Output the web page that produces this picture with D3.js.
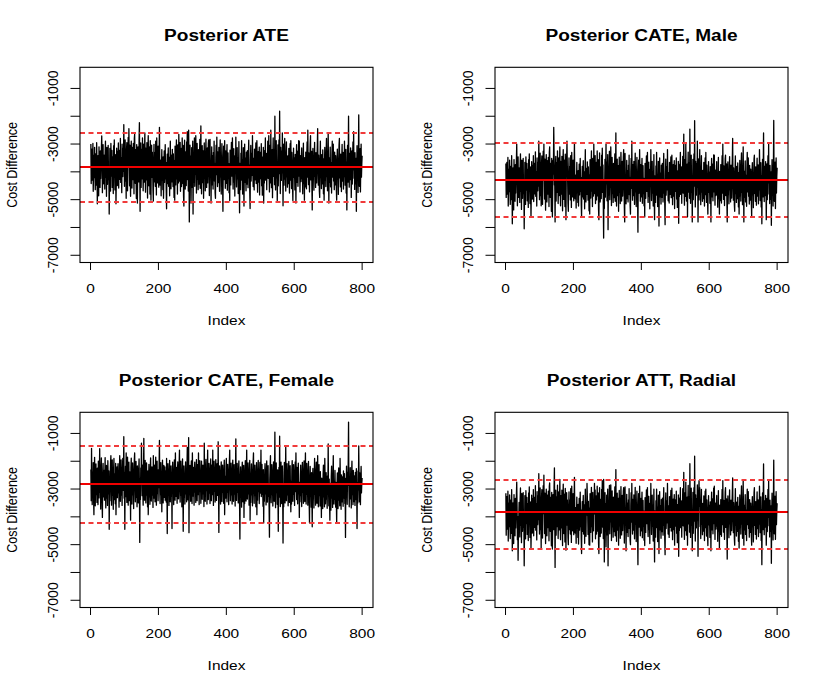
<!DOCTYPE html>
<html>
<head>
<meta charset="utf-8">
<script src="https://cdn.jsdelivr.net/npm/d3@7/dist/d3.min.js"></script>
<style>
  html, body { margin: 0; padding: 0; background: #fff; }
  svg { display: block; }
</style>
</head>
<body>
<div id="chart"></div>
<script>
/* --- data (index 1..800) ---------------------------------------------- */
var ateDraws = [
  -3000,-4420,-3560,-3180,-4300,-3790,-2980,-4700,-3900,-3400,-4210,-3120,-4050,-4640,-3350,-3880,-4480,-2950,-3720,-5150,
  -4350,-3420,-3930,-4860,-3100,-4130,-3550,-4560,-3250,-4240,-3700,-3130,-2710,-3560,-4750,-3900,-3020,-4430,-4000,-3400,
  -3760,-4620,-3300,-2900,-4200,-3640,-4880,-3120,-4010,-4450,-3510,-3050,-4280,-3860,-5520,-4330,-3160,-3740,-4690,-2980,
  -3620,-4150,-3230,-4560,-3450,-3940,-4780,-3060,-3770,-2850,-4100,-4650,-3380,-3900,-5150,-4250,-3150,-3690,-4490,-3260,
  -3990,-2960,-4580,-3540,-3230,-4270,-3780,-2800,-4380,-3480,-3920,-4750,-3000,-3650,-4170,-3150,-3980,-2300,-3500,-4520,
  -3260,-2850,-4330,-3710,-4950,-3200,-2950,-3920,-4680,-3380,-2760,-3780,-2450,-3570,-4500,-3040,-4060,-4880,-3300,-2900,
  -3950,-4580,-3120,-3640,-4280,-2980,-3500,-4790,-2800,-2650,-3760,-4410,-3200,-4030,-4960,-3020,-3690,-5120,-4120,-3100,
  -3580,-4360,-2850,-2230,-3900,-5420,-3330,-2960,-4560,-3720,-3180,-4250,-2780,-3540,-4680,-3980,-3000,-4370,-3380,-2600,
  -3830,-4730,-3150,-3680,-4290,-2950,-4020,-4940,-3250,-2700,-3910,-4500,-3100,-3620,-4800,-2880,-3790,-5020,-3420,-3040,
  -4200,-3290,-3800,-4650,-5050,-3560,-3010,-4360,-4030,-3300,-4520,-2900,-3700,-4830,-2780,-3480,-4400,-3890,-3080,-4100,
  -4550,-3380,-2400,-3760,-4480,-3580,-4050,-4860,-3900,-3200,-4310,-3690,-4640,-3460,-4950,-4080,-3250,-4380,-3820,-3020,
  -4250,-3660,-4700,-5330,-3950,-3360,-4420,-3620,-3140,-4520,-3990,-3480,-4860,-3710,-2900,-4130,-4610,-3400,-3850,-4360,
  -3190,-3770,-4530,-3350,-4090,-4920,-3590,-5020,-3080,-3880,-4470,-3450,-2850,-4250,-3680,-4800,-3030,-3950,-4400,-2650,
  -3370,-4330,-3810,-2940,-4700,-3620,-3160,-4530,-4000,-2780,-3500,-4420,-3050,-4880,-5230,-3750,-2860,-4120,-4620,-3280,
  -3870,-4490,-2920,-3630,-2550,-4280,-3280,-4690,-2500,-3790,-5800,-4060,-3040,-4420,-3430,-5120,-3960,-3130,-4560,-3650,
  -2900,-5520,-3860,-4370,-3290,-2780,-4520,-3600,-4090,-2700,-3400,-4760,-3820,-2980,-4270,-3550,-4640,-3200,-3970,-4440,
  -3390,-2830,-4590,-3720,-2350,-4120,-4790,-3530,-3060,-4390,-3910,-3250,-4950,-3660,-2960,-4230,-3820,-4680,-3330,-2820,
  -4010,-4560,-3500,-3140,-4400,-3770,-2980,-2850,-3960,-4850,-3570,-2830,-4190,-3700,-5120,-3910,-3100,-4470,-3410,-4090,
  -4620,-3300,-3930,-2900,-4330,-3690,-4760,-4950,-3480,-3040,-4100,-2750,-3820,-4530,-3280,-3660,-4390,-3120,-4020,-4700,
  -3420,-2850,-4180,-3760,-4800,-3560,-2990,-4100,-4440,-5420,-3610,-3080,-4280,-3870,-2880,-3680,-4590,-3250,-4060,-4410,
  -3500,-3020,-4660,-3830,-3320,-4240,-3700,-4750,-3980,-5030,-3220,-3890,-4470,-3440,-2940,-4150,-3730,-2780,-4080,-4620,
  -3590,-3170,-4370,-3880,-4870,-3420,-4030,-2750,-3670,-4540,-3910,-3130,-4250,-3480,-4780,-3800,-2910,-4420,-5470,-3700,
  -4080,-4640,-3330,-3850,-2880,-4300,-3550,-4800,-3920,-3130,-4200,-5230,-3740,-3000,-4380,-3500,-4110,-4680,-3290,-3880,
  -4440,-3240,-4010,-4570,-3430,-2860,-4220,-3750,-4720,-5320,-3590,-3050,-4330,-3910,-3330,-4130,-2700,-3810,-4530,-3520,
  -4090,-4650,-3180,-3760,-4290,-3400,-2960,-4420,-3870,-2880,-3640,-4730,-4070,-3270,-4370,-3510,-3110,-4830,-3950,-3300,
  -4240,-3580,-2990,-4500,-3780,-4840,-3460,-4080,-3120,-5120,-3850,-4400,-3230,-3650,-2780,-4300,-3980,-3340,-4640,-3420,
  -3920,-2900,-4230,-3710,-2700,-4080,-4720,-3400,-3040,-4400,-2500,-3600,-4570,-3840,-3200,-4930,-3480,-2780,-4160,-3730,
  -3180,-4460,-2000,-3910,-4650,-3400,-2880,-4220,-3660,-5030,-4020,-3030,-4500,-3490,-2850,-4060,-1820,-3700,-4780,-3120,
  -3800,-4310,-3250,-4040,-2600,-3660,-5220,-3890,-3000,-4480,-3530,-2800,-4260,-3710,-4690,-3360,-2920,-4180,-3820,-4550,
  -3430,-4040,-4420,-3160,-3760,-4760,-3550,-2990,-4300,-2880,-3880,-4600,-3300,-4040,-4480,-5030,-3680,-3150,-4200,-3490,
  -4070,-4650,-3370,-3800,-5120,-3600,-3020,-4380,-3930,-3260,-4520,-3720,-2880,-4150,-2900,-3850,-4720,-3420,-4030,-4350,
  -3570,-3140,-4240,-3830,-4790,-3650,-2970,-4420,-3920,-5020,-3490,-4010,-4540,-3290,-3820,-4610,-3410,-2920,-4190,-2500,
  -3760,-4460,-3320,-4000,-4720,-3590,-3010,-2700,-4290,-3870,-3260,-4520,-5370,-3660,-3160,-4260,-3830,-4660,-3450,-2940,
  -4160,-3700,-4560,-3310,-3910,-4400,-3500,-3050,-2450,-3960,-4480,-3400,-3860,-4700,-4920,-3610,-2900,-4210,-3750,-4600,
  -3380,-4040,-4430,-3210,-3830,-4790,-3530,-5020,-3920,-3120,-4300,-3690,-4530,-3280,-2800,-4170,-3760,-4680,-3430,-2600,
  -3950,-5120,-3500,-4380,-3850,-3110,-4540,-3660,-4010,-4760,-3410,-2900,-4190,-3770,-3000,-4330,-3920,-4640,-3290,-3960,
  -4470,-3420,-4010,-4590,-5020,-3560,-3180,-4260,-3880,-4810,-3620,-3030,-2800,-4220,-3810,-4540,-3360,-3990,-4710,-3480,
  -3010,-4330,-3920,-3300,-4620,-3770,-4170,-2900,-3510,-4480,-4040,-3190,-4760,-3640,-5370,-3900,-3050,-4370,-3400,-2000,
  -4010,-4550,-3340,-3800,-4280,-3140,-3650,-4920,-4080,-3250,-4440,-3490,-2920,-3930,-2550,-4230,-3690,-4630,-3310,-4020,
  -4430,-3520,-5420,-3900,-3060,-4280,-3740,-4740,-3380,-1950,-3980,-4520,-3590,-3170,-4720,-3800,-3000,-4190,-3720,-3420
];

var maleDraws = [
  -3700,-4920,-4100,-3660,-4800,-4260,-3480,-5230,-4420,-3900,-4710,-3580,-4540,-5170,-3800,-4370,-5000,-3420,-4190,-5870,
  -4880,-3860,-4420,-5370,-3560,-4620,-4020,-5060,-3740,-4760,-4180,-3600,-3000,-4000,-5220,-4390,-3460,-4920,-4500,-3860,
  -4250,-5100,-3780,-3350,-4700,-4130,-5350,-3580,-4480,-4950,-4000,-3520,-4780,-4360,-6050,-4820,-3660,-4230,-5170,-3460,
  -4080,-4660,-3700,-5040,-3900,-4410,-5280,-3560,-4270,-3350,-4600,-5140,-3820,-4360,-5620,-4740,-3630,-4180,-4980,-3760,
  -4480,-3420,-5070,-4050,-3700,-4790,-4260,-3280,-4880,-3980,-4400,-5230,-3500,-4150,-4680,-3650,-4510,-2900,-3990,-5000,
  -3760,-3330,-4850,-4240,-5220,-3680,-3430,-4420,-5170,-3900,-3260,-4300,-3000,-4060,-4980,-3540,-4560,-5380,-3820,-3380,
  -4440,-5080,-3600,-4160,-4800,-3480,-4020,-5250,-3300,-3100,-4270,-4920,-3700,-4500,-5420,-3520,-4180,-5620,-4630,-3580,
  -4080,-2400,-3330,-4470,-4380,-5800,-3830,-3440,-5050,-4260,-3660,-4740,-3250,-4040,-5140,-4470,-3500,-4850,-3860,-3100,
  -4350,-5220,-3620,-4180,-4800,-3440,-4540,-5400,-3720,-3200,-4430,-4990,-3580,-4140,-5250,-3360,-4300,-5720,-3920,-3520,
  -2900,-3780,-4330,-5130,-5420,-4060,-3500,-4800,-4480,-3800,-5010,-3420,-4230,-5280,-3300,-3980,-4900,-4380,-3580,-4560,
  -5040,-3820,-2950,-4300,-4970,-4120,-4520,-5300,-4390,-3660,-4750,-4210,-5100,-3960,-5230,-4540,-3720,-4830,-4330,-3520,
  -4700,-4200,-5170,-5620,-4400,-3800,-4900,-4150,-3600,-4980,-4430,-4000,-5330,-4220,-3200,-4580,-5080,-3880,-4350,-4810,
  -3640,-4270,-5020,-3820,-4520,-5400,-4100,-5520,-3560,-4380,-4940,-3970,-3250,-4690,-4150,-5250,-3520,-4400,-4870,-3000,
  -3880,-4780,-4290,-3420,-5140,-4140,-3660,-5010,-4450,-3250,-4050,-4870,-3560,-5360,-5720,-4230,-3320,-4620,-5080,-3820,
  -4350,-4960,-3400,-4120,-3150,-4740,-3750,-5170,-6380,-4300,-5320,-4510,-3550,-4910,-3980,-3000,-4430,-3640,-5040,-4120,
  -3380,-6080,-4340,-4830,-3800,-3260,-5000,-4130,-4560,-3100,-3960,-5210,-4320,-3480,-4780,-4080,-5100,-3700,-4450,-4930,
  -3900,-3350,-5060,-4230,-2600,-4590,-5230,-4050,-3540,-4850,-4380,-3780,-5420,-4170,-3470,-4720,-4310,-5140,-3840,-3300,
  -4520,-5050,-3990,-3620,-4870,-4260,-3480,-3200,-4430,-5300,-5800,-3340,-4710,-4200,-5150,-4380,-3590,-4960,-3950,-4640,
  -5080,-3760,-4400,-3400,-4820,-4190,-5230,-5520,-4000,-3520,-4590,-2900,-4310,-5020,-3740,-4160,-4850,-3620,-4500,-5170,
  -3900,-3330,-4720,-4260,-5250,-4060,-3480,-4610,-4940,-6170,-4120,-3580,-4770,-4360,-3200,-4170,-5060,-3740,-4560,-4900,
  -3980,-3520,-5130,-4310,-3780,-4780,-4230,-5220,-4470,-5620,-3700,-4400,-4950,-3920,-3430,-4700,-4240,-3300,-4550,-5100,
  -4060,-3650,-4880,-4370,-5330,-3900,-4520,-3200,-4160,-5030,-4420,-3620,-4760,-3980,-5230,-4300,-3380,-4930,-5720,-4150,
  -4530,-5100,-3790,-4320,-3300,-4840,-4080,-5250,-4420,-3620,-4680,-5950,-4240,-3500,-4900,-4040,-4590,-5160,-3760,-4360,
  -4920,-3700,-4460,-5080,-3900,-3340,-4760,-4260,-5200,-5900,-4100,-3540,-4840,-4400,-3800,-4650,-3200,-4310,-5040,-4030,
  -4560,-5120,-3660,-4250,-4810,-3880,-3460,-4930,-4350,-3400,-4140,-5180,-4520,-3740,-4870,-4060,-3600,-5320,-4410,-3770,
  -4700,-4080,-3500,-4980,-4270,-5280,-3960,-4550,-3620,-5850,-4340,-4890,-3720,-4130,-3300,-4810,-4460,-3820,-5130,-3980,
  -4400,-3440,-4760,-4200,-2640,-4580,-5200,-3900,-3550,-4880,-3000,-4100,-5050,-4300,-3720,-5620,-4000,-3290,-4730,-4220,
  -3670,-4950,-2460,-4400,-5130,-3950,-3400,-4730,-4150,-5800,-4490,-3550,-5000,-4020,-3350,-4510,-2160,-4200,-5260,-3620,
  -4300,-4840,-3700,-4560,-2900,-4160,-5800,-4390,-3530,-5010,-4050,-3200,-4800,-4200,-5180,-3900,-3420,-4730,-4320,-5060,
  -3950,-4530,-4960,-3660,-4240,-5230,-4040,-3500,-4820,-3300,-4370,-5100,-3760,-4530,-4990,-5520,-4180,-3630,-4740,-4000,
  -4620,-5130,-3810,-4300,-5800,-4060,-3520,-4900,-4410,-3720,-5040,-4200,-3390,-4720,-3400,-4340,-5200,-3940,-4560,-4850,
  -4030,-3630,-4810,-4330,-5270,-4140,-3480,-4960,-4410,-5520,-3980,-4520,-5030,-3740,-4300,-5120,-3930,-3420,-4760,-3000,
  -4250,-4990,-3790,-4520,-5210,-4060,-3520,-3400,-4850,-4350,-3710,-5040,-5800,-4140,-3640,-4820,-4330,-5150,-3950,-3450,
  -4650,-4170,-5080,-3760,-4380,-4940,-3990,-3550,-2800,-4460,-5020,-3860,-4340,-5190,-5420,-4050,-3430,-4780,-4230,-5100,
  -3800,-4560,-4960,-3680,-4310,-5260,-4030,-5520,-4420,-3590,-4860,-4150,-5050,-3730,-3320,-4740,-4230,-5180,-3950,-3100,
  -4450,-5800,-3980,-4920,-4330,-3610,-5080,-4120,-4500,-5240,-3870,-3300,-4720,-4260,-3500,-4880,-4400,-5160,-3770,-4460,
  -5020,-3900,-4500,-5100,-5620,-3980,-3670,-4830,-4360,-5290,-4100,-3530,-3400,-4780,-4290,-5060,-3820,-4470,-5200,-4000,
  -3510,-4870,-4400,-3750,-5150,-4240,-4650,-3200,-3950,-5030,-4500,-3670,-5260,-4130,-5870,-4380,-3550,-4900,-3930,-2600,
  -4480,-5070,-3800,-4290,-4850,-3630,-4150,-5720,-4560,-3710,-5000,-3990,-3420,-4400,-3000,-4800,-4170,-5140,-3770,-4500,
  -4990,-4000,-5920,-4380,-3560,-4830,-4220,-5230,-3880,-2150,-4470,-5060,-4080,-3650,-5320,-4310,-3500,-4760,-4160,-3850
];

var femaleDraws = [
  -2300,-3420,-1540,-2800,-3560,-2380,-3050,-2050,-3300,-3920,-2580,-1860,-2950,-3600,-2350,-2100,-3200,-2700,-3480,-2250,
  -2920,-3560,-2000,-2630,-3320,-2440,-1550,-3110,-2780,-3720,-2200,-1880,-3050,-3470,-4020,-2530,-2080,-3280,-2860,-2330,
  -3400,-2640,-1870,-2980,-3680,-2450,-2150,-3330,-2880,-3590,-1980,-2720,-3170,-2350,-4450,-2950,-3420,-2480,-2030,-1800,
  -3000,-3580,-2560,-1950,-3230,-2760,-3730,-2270,-1900,-3380,-2880,-2450,-3530,-2080,-3920,-2660,-3080,-2200,-3310,-2520,
  -2090,-3140,-2760,-3650,-2380,-1800,-2950,-3440,-2500,-1950,-3220,-2800,-3590,-2260,-1900,-3050,-2620,-1120,-3330,-2410,
  -4450,-2710,-2180,-3270,-1700,-2900,-3480,-2300,-1850,-3090,-3580,-2560,-2030,-2960,-3420,-2380,-2800,-4120,-2220,-1890,
  -3060,-3540,-2500,-2060,-3210,-2700,-3700,-2300,-1950,-1700,-2900,-3460,-2420,-2010,-3300,-2790,-3640,-2170,-2600,-3100,
  -3500,-2280,-1920,-2930,-4920,-2620,-3380,-2240,-2800,-1350,-2480,-3240,-2140,-3080,-3580,-2380,-1180,-2900,-3400,-2330,
  -1970,-3130,-3500,-2500,-2060,-3220,-2760,-3640,-2350,-3920,-2700,-2110,-3280,-2880,-3550,-2260,-1880,-3030,-3430,-2560,
  -2200,-3220,-2800,-3660,-1800,-2480,-3330,-2900,-2140,-3460,-2630,-1850,-3000,-3580,-2360,-2000,-3160,-2740,-3420,-2300,
  -2950,-2180,-1250,-3080,-3520,-2540,-2050,-3200,-2760,-3820,-2420,-1960,-2960,-3500,-2580,-2150,-3300,-2690,-2200,-3400,
  -2840,-2340,-3470,-1900,-3000,-4600,-2480,-2090,-3230,-2810,-3590,-2290,-1970,-3060,-3460,-2560,-2170,-3260,-2740,-4420,
  -2420,-2030,-3150,-2780,-3560,-2300,-1950,-2940,-3400,-1700,-2640,-3260,-2220,-2880,-3510,-2470,-2020,-3080,-3350,-2330,
  -2120,-1600,-3040,-3470,-2550,-2000,-3230,-2850,-3640,-2310,-1920,-2980,-4520,-2600,-2170,-3300,-2760,-3540,-2440,-2020,
  -3170,-2680,-3460,-2300,-1500,-2940,-3390,-2480,-1150,-4570,-2600,-3200,-2150,-2830,-3440,-2330,-1990,-3070,-3520,-1700,
  -2510,-3250,-2220,-2860,-3580,-2400,-2030,-3110,-2650,-3480,-2280,-1940,-3000,-3420,-2500,-2110,-3200,-1700,-2770,-3560,
  -2310,-1980,-3090,-2690,-3510,-2370,-2000,-2960,-3370,-2560,-2140,-3170,-2770,-3630,-1350,-2480,-2900,-3440,-2240,-1930,
  -3060,-2640,-3540,-2350,-1600,-2880,-3380,-2480,-2080,-3150,-2720,-3520,-2270,-1920,-2950,-3420,-2460,-2130,-3200,-1600,
  -2820,-3590,-2330,-2000,-3080,-2650,-3470,-2250,-1940,-2900,-3410,-2440,-2090,-3230,-2750,-1300,-3000,-4560,-2580,-2170,
  -3190,-2790,-3540,-2340,-2020,-3040,-3450,-2500,-2140,-3120,-2700,-3510,-2280,-1960,-3920,-2920,-2540,-3330,-2200,-1900,
  -3000,-3460,-2460,-2110,-3120,-2710,-3560,-2300,-2000,-1600,-2890,-3420,-2420,-2070,-3210,-2770,-3540,-2250,-1960,-3060,
  -3440,-2490,-2120,-3180,-2800,-3610,-2320,-1200,-2930,-3410,-2440,-2080,-3120,-2690,-3500,-2270,-1990,-3050,-3560,-4800,
  -2610,-2200,-3230,-2840,-3650,-2350,-2030,-3070,-3460,-2510,-2150,-4020,-2730,-3520,-2290,-1980,-3030,-3430,-2480,-1600,
  -2930,-3360,-2410,-2060,-3170,-2760,-3580,-2280,-1970,-4120,-2830,-3480,-2460,-2100,-3210,-2740,-3600,-2310,-2010,-1700,
  -3060,-3510,-2510,-2140,-3240,-2830,-3640,-2370,-2050,-3920,-2640,-3400,-2280,-1970,-3090,-2700,-3520,-2350,-2040,-3150,
  -2750,-1600,-3270,-2480,-2110,-3190,-2810,-3620,-2300,-4220,-2950,-3440,-2440,-2090,-3170,-2760,-3570,-2300,-1990,-3040,
  -3470,-2540,-2160,-3260,-2870,-3660,-4730,-2650,-2220,-1800,-3080,-3490,-2480,-2120,-3200,-2800,-3610,-2330,-2020,-3060,
  -3440,-2560,-950,-2920,-3670,-2450,-2060,-3130,-2750,-3550,-2310,-3220,-4520,-2640,-2220,-3290,-1100,-2880,-3630,-2370,
  -2030,-3110,-3520,-2580,-2170,-3270,-4940,-2840,-3640,-2370,-2040,-3080,-3500,-2560,-1500,-2960,-3420,-2460,-2090,-3210,
  -2790,-3600,-2330,-2010,-3060,-3480,-2540,-2160,-3240,-3820,-2720,-3540,-2300,-1980,-3010,-3440,-2490,-2120,-3190,-2780,
  -3590,-2340,-2020,-3090,-1700,-2600,-3380,-2220,-2890,-3530,-2430,-2070,-3170,-2750,-4020,-2930,-3460,-2500,-2140,-3240,
  -2830,-3630,-2370,-2040,-3110,-2720,-3510,-2300,-1990,-3040,-3450,-2540,-1700,-2890,-3540,-2440,-2080,-3190,-2770,-3580,
  -2330,-2010,-3080,-3490,-4220,-2610,-2190,-3250,-2860,-3650,-2410,-3280,-4360,-2680,-2260,-3350,-2930,-3680,-2480,-1900,
  -3180,-2780,-3580,-2350,-2030,-3090,-3510,-2580,-1800,-2990,-3640,-2470,-2120,-3240,-2820,-3610,-2370,-3320,-2900,-4020,
  -2610,-3450,-3000,-3700,-2490,-2140,-3280,-2860,-3640,-1900,-2710,-3530,-3110,-2410,-3360,-2940,-3690,-2530,-3180,-1380,
  -3020,-3600,-2640,-3470,-4120,-2800,-3210,-3760,-2550,-2180,-3330,-2900,-3660,-2470,-1800,-3100,-3540,-2720,-3370,-2330,
  -3200,-3650,-2760,-3460,-4220,-2880,-2420,-3300,-3700,-2640,-2240,-3400,-2970,-3600,-1900,-2700,-3220,-3730,-2490,-2920,
  -3460,-2560,-3110,-3620,-2350,-2820,-3330,-2450,-3520,-2940,-4740,-2610,-3280,-2180,-3060,-3550,-2390,-2870,-2050,-590,
  -2950,-3640,-2620,-3140,-2230,-3360,-2800,-3680,-2460,-2000,-3200,-2700,-3560,-2330,-2920,-3450,-2530,-3020,-3590,-2400,
  -2880,-3380,-2270,-3170,-4420,-2760,-3500,-2350,-3030,-1450,-2680,-3460,-2420,-2930,-3560,-2570,-2190,-3140,-2800,-2600
];

var radialDraws = [
  -3150,-4660,-3790,-3270,-4440,-3920,-3080,-4870,-4060,-3500,-4350,-3210,-4180,-4780,-3400,-3960,-4590,-3020,-3790,-5220,
  -4460,-3500,-4030,-4960,-3200,-4250,-3640,-4680,-3340,-4400,-3820,-3240,-2750,-3630,-4820,-3980,-5560,-4530,-4100,-3480,
  -3860,-4720,-3380,-2960,-4310,-3740,-4930,-3160,-4100,-4520,-3610,-3130,-4380,-3960,-5760,-4400,-3240,-3840,-4790,-3060,
  -3700,-4240,-3300,-4630,-3520,-4010,-4850,-3140,-3860,-2920,-4200,-4740,-3460,-3940,-5120,-4340,-3220,-3760,-4580,-3340,
  -4080,-3020,-4680,-3610,-3300,-4380,-3880,-2880,-4480,-3520,-4000,-4830,-3090,-3730,-4280,-3240,-4100,-2450,-3580,-4620,
  -3380,-2960,-4460,-3830,-5120,-3300,-3020,-4020,-4760,-3480,-2880,-3880,-2500,-3650,-4600,-3150,-4150,-4960,-3420,-3000,
  -4060,-4680,-3220,-3740,-4390,-3080,-3600,-4860,-2900,-2780,-3880,-4520,-3300,-4130,-5040,-3120,-3780,-5160,-4240,-3200,
  -3680,-4460,-2940,-2240,-4000,-5820,-3420,-3040,-4660,-3840,-3270,-4350,-2860,-3640,-4780,-4080,-3100,-4470,-3460,-2650,
  -3920,-4820,-3240,-3770,-4400,-3040,-4130,-5030,-3340,-2820,-4020,-4600,-3180,-3720,-4900,-2980,-3880,-5200,-3520,-3130,
  -4300,-3390,-3900,-4750,-5000,-3650,-3100,-4460,-4130,-3390,-4620,-2990,-3800,-4920,-2900,-3570,-4500,-3980,-3170,-4200,
  -4640,-3470,-2580,-3860,-4580,-3670,-4150,-4950,-3990,-3290,-4410,-3780,-4740,-3550,-4980,-4180,-3340,-4480,-3920,-3110,
  -4350,-3750,-4800,-5320,-4040,-3450,-4520,-3710,-3230,-4620,-4080,-3570,-4950,-3800,-3000,-4230,-4700,-3490,-3940,-2800,
  -3280,-3860,-4630,-3440,-4180,-5000,-3680,-5020,-3170,-3970,-4560,-3540,-2940,-4350,-3770,-4900,-3120,-4040,-4500,-3380,
  -3460,-2800,-3900,-3030,-4790,-3710,-3250,-4620,-4090,-2900,-3590,-4520,-3140,-4960,-5320,-3840,-2950,-4210,-4710,-3370,
  -3960,-4580,-3010,-3720,-2700,-4370,-3370,-4780,-2650,-3880,-5620,-4150,-3130,-4510,-3520,-5080,-4050,-3220,-4650,-3740,
  -3000,-5760,-3950,-4460,-3380,-2870,-4610,-3690,-4180,-2850,-3490,-4850,-3910,-3070,-4360,-3640,-4730,-3290,-4060,-4530,
  -3480,-2920,-4680,-3810,-2300,-4210,-4880,-3620,-3150,-4480,-4000,-3340,-5020,-3750,-3050,-4320,-3910,-4770,-3420,-2910,
  -4100,-4650,-3590,-3230,-4490,-3860,-3070,-2950,-4050,-4940,-3660,-2920,-4280,-3790,-5220,-4000,-3190,-4560,-3500,-4180,
  -4710,-3390,-4020,-2990,-4420,-3780,-4850,-5000,-3570,-3130,-4190,-2800,-3910,-4620,-3370,-3750,-4480,-3210,-4110,-4790,
  -3510,-2940,-4270,-3850,-4890,-3650,-3080,-4190,-4530,-5720,-3700,-3170,-4370,-3960,-2900,-3770,-4680,-3340,-4150,-4500,
  -3590,-3110,-4750,-3920,-3410,-4330,-3790,-4840,-4070,-5030,-3310,-3980,-4560,-3530,-3030,-4240,-3820,-2950,-4170,-4710,
  -3680,-3260,-4460,-3970,-4960,-3510,-4120,-2800,-3760,-4630,-4000,-3220,-4340,-3570,-4870,-3890,-3000,-4510,-5620,-3790,
  -4170,-4730,-3420,-3940,-3000,-4390,-3640,-4890,-4010,-3220,-4290,-5320,-3830,-3090,-4470,-3590,-4200,-4770,-3380,-3970,
  -4530,-3330,-4100,-4660,-3520,-2950,-4310,-3840,-4810,-5360,-3680,-3140,-4420,-4000,-3420,-4220,-2800,-3900,-4620,-3610,
  -4180,-4740,-3270,-3850,-4380,-3490,-3050,-4510,-3960,-2970,-3730,-4820,-4160,-3360,-4460,-3600,-3200,-5020,-4040,-3390,
  -4330,-3670,-3080,-4590,-3870,-4930,-3550,-4170,-3210,-5420,-3940,-4490,-3320,-3740,-2950,-4390,-4070,-3430,-4730,-3510,
  -4010,-2990,-4320,-3800,-2400,-4170,-4810,-3490,-3130,-4490,-2750,-3690,-4660,-3930,-3290,-5020,-3570,-2870,-4250,-3820,
  -3270,-4550,-2090,-4000,-4740,-3490,-2970,-4310,-3750,-5220,-4110,-3120,-4590,-3580,-2950,-4150,-1820,-3790,-4870,-3210,
  -3890,-4400,-3340,-4130,-2850,-3750,-5420,-3980,-3090,-2700,-3620,-2950,-4350,-3800,-4780,-3450,-3010,-4270,-3910,-4640,
  -3520,-4130,-4510,-3250,-3850,-4850,-3640,-3080,-4390,-3000,-3970,-4690,-3390,-4130,-4570,-5030,-3770,-3240,-4290,-3580,
  -4160,-4740,-3460,-3890,-5220,-3690,-3110,-4470,-4020,-3350,-4610,-3810,-2970,-4240,-2900,-3940,-4810,-3510,-4120,-4440,
  -3660,-3230,-4330,-3920,-4880,-3740,-3060,-4510,-4010,-5120,-3580,-4100,-4630,-3380,-3910,-4700,-3500,-3010,-4280,-2700,
  -3850,-4550,-3410,-4090,-4810,-3680,-3100,-2950,-4380,-3960,-3350,-4610,-5520,-3750,-3250,-4350,-3920,-4750,-3540,-3030,
  -4250,-3790,-4650,-3400,-4000,-4490,-3590,-3140,-2600,-4050,-4570,-3490,-3950,-4790,-5020,-3700,-2990,-4300,-3840,-4690,
  -3470,-4130,-4520,-3300,-3920,-4880,-3620,-5120,-4010,-3210,-4390,-3780,-4620,-3370,-2890,-4260,-3850,-4770,-3520,-2700,
  -4040,-5020,-3590,-4470,-3940,-3200,-4630,-3750,-4100,-4850,-3500,-3000,-4280,-3860,-3090,-4420,-4010,-4730,-3380,-4050,
  -4560,-3510,-4100,-4680,-5020,-3650,-3270,-4350,-3970,-4900,-3710,-3120,-2950,-4310,-3900,-4630,-3450,-4080,-4800,-3570,
  -3100,-4420,-4010,-3390,-4710,-3860,-4260,-2900,-3600,-4570,-4130,-3280,-4850,-3730,-5720,-3990,-3140,-4460,-3490,-2100,
  -4100,-4640,-3430,-3890,-4370,-3230,-3740,-5020,-4170,-3340,-4530,-3580,-3010,-4020,-2700,-4320,-3780,-4720,-3400,-4110,
  -4520,-3610,-5670,-3990,-3150,-4370,-3830,-4830,-3470,-1960,-4070,-4610,-3680,-3260,-4810,-3890,-3090,-4280,-3810,-3510
];

/* posterior mean (solid) and 2.5% / 97.5% bands (dashed) per panel */
var panelTitles = ['Posterior ATE', 'Posterior CATE, Male', 'Posterior CATE, Female', 'Posterior ATT, Radial'];
var meanLines   = [-3830, -4310, -2810, -3840];
var lowerLines  = [-5090, -5640, -4220, -5170];
var upperLines  = [-2610, -2980, -1460, -2670];

var xTicks      = [0, 200, 400, 600, 800];
var yTicks      = [-7000, -6000, -5000, -4000, -3000, -2000, -1000];
var yTickLabels = [-7000, -5000, -3000, -1000];
var xLabel = 'Index';
var yLabel = 'Cost Difference';

/* --- layout ------------------------------------------------------------ */
var W = 830, H = 692;
var FONT = 'Liberation Sans, Arial, Helvetica, sans-serif';
var STRETCH = 1.19;   /* the reference is drawn a little wide */
var cells = [
  { dx: 0,   dy: 0,   draws: ateDraws },
  { dx: 415, dy: 0,   draws: maleDraws },
  { dx: 0,   dy: 345, draws: femaleDraws },
  { dx: 415, dy: 345, draws: radialDraws }
];
var box = { x0: 80, x1: 373, y0: 67.3, y1: 262.5 };

var svg = d3.select('#chart').append('svg')
  .attr('width', W).attr('height', H)
  .attr('font-family', FONT);
svg.append('rect').attr('width', W).attr('height', H).attr('fill', '#fff');

var x = d3.scaleLinear().domain([-31, 832]).range([box.x0, box.x1]);
var y = d3.scaleLinear().domain([-7260, -240]).range([box.y1, box.y0]);

/* horizontal text, stretched sideways like the reference */
function hText(g, str, cx, base, size, weight) {
  g.append('text')
    .attr('transform', 'translate(' + cx + ',' + base + ') scale(' + STRETCH + ',1)')
    .attr('text-anchor', 'middle')
    .attr('font-size', size)
    .attr('font-weight', weight || 'normal')
    .attr('fill', '#000')
    .text(str);
}
/* vertical text reading upwards; baseline sits on the right */
function vText(g, str, bx, cy, size, along) {
  g.append('text')
    .attr('transform', 'translate(' + bx + ',' + cy + ') rotate(-90) scale(' + (along || 1) + ',' + STRETCH + ')')
    .attr('text-anchor', 'middle')
    .attr('font-size', size)
    .attr('fill', '#000')
    .text(str);
}

cells.forEach(function (c, k) {
  var g = svg.append('g').attr('transform', 'translate(' + c.dx + ',' + c.dy + ')');

  /* --- trace --------------------------------------------------------- */
  var line = d3.line()
    .x(function (d, i) { return x(i + 1); })
    .y(function (d) { return y(d); });
  g.append('path')
    .datum(c.draws)
    .attr('d', line)
    .attr('fill', 'none')
    .attr('stroke', '#000')
    .attr('stroke-width', 1.3)
    .attr('stroke-linejoin', 'round');

  /* --- reference lines ----------------------------------------------- */
  [lowerLines[k], upperLines[k]].forEach(function (v) {
    var yy = Math.round(y(v));
    g.append('line')
      .attr('x1', box.x0).attr('x2', box.x1)
      .attr('y1', yy).attr('y2', yy)
      .attr('stroke', '#f03a3a').attr('stroke-width', 1.8)
      .attr('stroke-dasharray', '5,3.5');
  });
  g.append('line')
    .attr('x1', box.x0).attr('x2', box.x1)
    .attr('y1', Math.round(y(meanLines[k]))).attr('y2', Math.round(y(meanLines[k])))
    .attr('stroke', '#f00000').attr('stroke-width', 2);

  /* --- box ----------------------------------------------------------- */
  g.append('rect')
    .attr('x', box.x0).attr('y', box.y0)
    .attr('width', box.x1 - box.x0).attr('height', box.y1 - box.y0)
    .attr('fill', 'none').attr('stroke', '#000').attr('stroke-width', 1.1);

  /* --- x axis -------------------------------------------------------- */
  xTicks.forEach(function (t) {
    g.append('line')
      .attr('x1', x(t)).attr('x2', x(t))
      .attr('y1', box.y1).attr('y2', box.y1 + 7.5)
      .attr('stroke', '#000').attr('stroke-width', 1);
    hText(g, String(t), x(t), 293, 13);
  });

  /* --- y axis -------------------------------------------------------- */
  yTicks.forEach(function (t) {
    g.append('line')
      .attr('x1', box.x0 - 9.5).attr('x2', box.x0)
      .attr('y1', y(t)).attr('y2', y(t))
      .attr('stroke', '#000').attr('stroke-width', 1);
  });
  yTickLabels.forEach(function (t) {
    vText(g, '-' + Math.abs(t), 57.5, y(t), 13, 1.08);
  });

  /* --- titles -------------------------------------------------------- */
  hText(g, panelTitles[k], (box.x0 + box.x1) / 2, 41, 16, 'bold');
  hText(g, xLabel, (box.x0 + box.x1) / 2, 325, 13);
  vText(g, yLabel, 16.5, (box.y0 + box.y1) / 2, 12.5, 1);
});
</script>
</body>
</html>
